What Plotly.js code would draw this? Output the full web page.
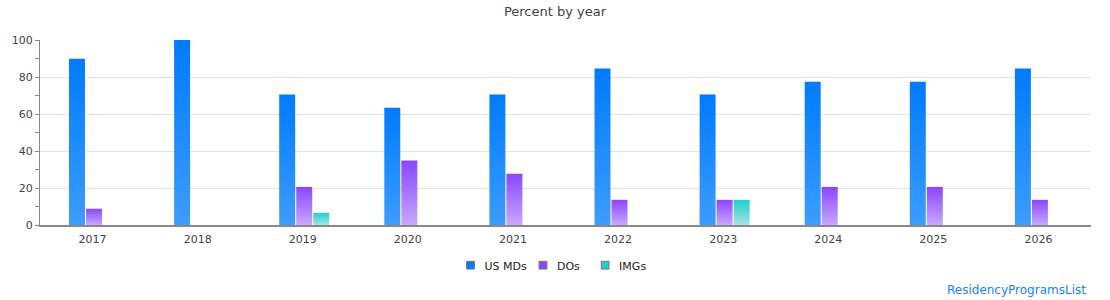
<!DOCTYPE html>
<html>
<head>
<meta charset="utf-8">
<script src="https://cdn.plot.ly/plotly-3.0.1.min.js"></script>
<style>html,body{margin:0;padding:0;background:#fff;}#chart{width:1110px;height:300px;}</style>
</head>
<body>
<div id="chart"></div>
<script>
var years = ['2017','2018','2019','2020','2021','2022','2023','2024','2025','2026'];
var usMDs = [89.9, 100, 70.5, 63.4, 70.5, 84.6, 70.5, 77.5, 77.5, 84.6];
var dos   = [8.8, 0, 20.6, 34.8, 27.7, 13.6, 13.6, 20.6, 20.6, 13.6];
var imgs  = [0, 0, 6.6, 0, 0, 0, 13.6, 0, 0, 0];
var seriesNames = ['US MDs', 'DOs', 'IMGs'];
var seriesColors = ['#007bff', '#8a46ff', '#1ecfcf'];
var gradientStops = [['#007bff', '#3d9cff'], ['#8a46ff', '#c8a8ff'], ['#1ecfcf', '#a6e4e4']];
var barOffsets = [-0.224, -0.062, 0.1];
var legendShifts = [-7, -22, -28];

var font = 'DejaVu Sans, sans-serif';
var values = [usMDs, dos, imgs];
var traces = values.map(function(v, i) {
  return {
    type: 'bar', x: years, y: v, name: seriesNames[i],
    width: 0.152, offset: barOffsets[i],
    marker: {color: seriesColors[i], line: {color: '#777', width: 1}},
    hoverinfo: 'y+name'
  };
});

var layout = {
  width: 1110, height: 300,
  margin: {l: 40, r: 19, t: 40, b: 75},
  paper_bgcolor: '#fff', plot_bgcolor: '#fff',
  font: {family: font, size: 11, color: '#444'},
  title: {text: 'Percent by year', font: {family: font, size: 13, color: '#444'}, x: 0.5, xanchor: 'center', y: 0.963, yanchor: 'middle'},
  barmode: 'group', bargap: 0.52, bargroupgap: 0.06,
  showlegend: true,
  legend: {orientation: 'h', x: 0.5, xanchor: 'center', y: -0.139, yanchor: 'top', font: {family: font, size: 11, color: '#222'}},
  xaxis: {type: 'category', showline: true, linecolor: '#888', linewidth: 1.5, ticks: '', showgrid: false, ticklabelstandoff: 3, tickfont: {size: 11, color: '#444'}},
  yaxis: {range: [0, 100], dtick: 20, showline: true, linecolor: '#888', linewidth: 1, ticks: 'outside', ticklen: 4, tickcolor: '#888',
          gridcolor: '#e3e3e3', zeroline: false, tickfont: {size: 11, color: '#444'},
          minor: {dtick: 10, ticks: 'outside', ticklen: 4, tickcolor: '#888', showgrid: false}},
  annotations: [{text: 'ResidencyProgramsList', xref: 'paper', yref: 'paper', x: 1, xanchor: 'right', xshift: -3, y: -0.35, yanchor: 'middle',
                 showarrow: false, font: {family: font, size: 12, color: '#1a7fff'}}]
};

function applyGradients() {
  var gd = document.getElementById('chart');
  var svg = gd.querySelector('svg.main-svg');
  if (!svg) return;
  var ns = 'http://www.w3.org/2000/svg';
  var defs = svg.querySelector('defs');
  if (!defs) { defs = document.createElementNS(ns, 'defs'); svg.insertBefore(defs, svg.firstChild); }
  gradientStops.forEach(function(st, i) {
    var id = 'bargrad' + i;
    if (document.getElementById(id)) return;
    var g = document.createElementNS(ns, 'linearGradient');
    g.setAttribute('id', id); g.setAttribute('x1', '0'); g.setAttribute('y1', '0'); g.setAttribute('x2', '0'); g.setAttribute('y2', '1');
    [[0, st[0]], [1, st[1]]].forEach(function(s) {
      var stop = document.createElementNS(ns, 'stop');
      stop.setAttribute('offset', s[0]); stop.setAttribute('stop-color', s[1]);
      g.appendChild(stop);
    });
    defs.appendChild(g);
  });
  gd.querySelectorAll('.barlayer .trace.bars').forEach(function(tg, i) {
    tg.querySelectorAll('path').forEach(function(p) {
      p.style.fill = 'url(#bargrad' + i + ')';
      p.style.stroke = 'none';
    });
  });
  gd.querySelectorAll('.legend .legendpoints path').forEach(function(p) {
    if (p.dataset.scaled) return;
    var tr = p.getAttribute('transform') || '';
    p.setAttribute('transform', (tr + ' translate(6,0) scale(0.65)').trim());
    p.style.strokeWidth = '1.5px';
    p.dataset.scaled = '1';
  });
  gd.querySelectorAll('.legend .traces').forEach(function(it, i) {
    if (it.dataset.shifted) return;
    var tr = it.getAttribute('transform') || '';
    var m = /translate\(([-\d.]+)[ ,]+([-\d.]+)\)/.exec(tr);
    if (!m) return;
    var x = parseFloat(m[1]) + (legendShifts[i] || 0);
    it.setAttribute('transform', 'translate(' + x + ',' + m[2] + ')');
    it.dataset.shifted = '1';
  });
}

Plotly.newPlot('chart', traces, layout, {displayModeBar: false, staticPlot: true}).then(function(gd) {
  applyGradients();
  gd.on('plotly_afterplot', applyGradients);
});
</script>
</body>
</html>
